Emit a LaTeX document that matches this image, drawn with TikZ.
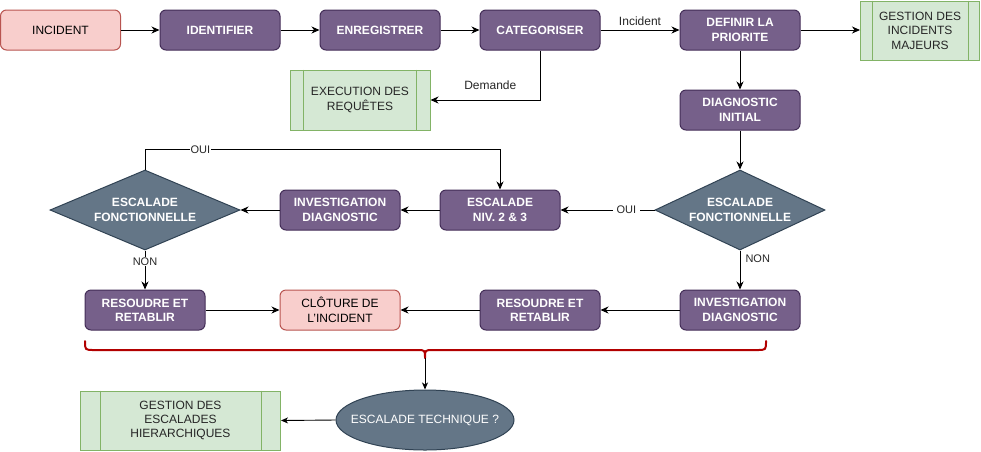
\documentclass[tikz,border=0pt]{standalone}
\usepackage{fontspec}
\setmainfont{Liberation Sans}
\usetikzlibrary{shapes.geometric,arrows.meta,calc}
\definecolor{purF}{HTML}{76608A}
\definecolor{purD}{HTML}{432D57}
\definecolor{slF}{HTML}{647687}
\definecolor{slD}{HTML}{314354}
\definecolor{pkF}{HTML}{F8CECC}
\definecolor{pkD}{HTML}{B85450}
\definecolor{grF}{HTML}{D5E8D4}
\definecolor{grD}{HTML}{82B366}
\definecolor{brR}{HTML}{B20000}
\newcommand{\fsz}{\fontsize{12pt}{14.4pt}\selectfont}
\newcommand{\fsm}{\fontsize{11pt}{13pt}\selectfont}
\tikzset{
  procbox/.style={rectangle, rounded corners=6pt, fill=purF, draw=purD, line width=1pt,
    text=white, font=\fsz\bfseries, minimum width=120pt, minimum height=40pt,
    align=center, inner sep=2pt},
  pinkbox/.style={procbox, fill=pkF, draw=pkD, text=black, font=\fsz},
  greenbox/.style={rectangle, fill=grF, draw=grD, line width=1pt, text=black!85,
    font=\fsz, align=center, inner sep=2pt},
  decbox/.style={diamond, fill=slF, draw=slD, line width=1pt, text=white,
    font=\fsz\bfseries, align=center, inner sep=0pt},
  grline/.style={draw=grD, line width=1pt},
  arr/.style={line width=1pt, -{Stealth[length=8pt,width=7pt,inset=2.5pt]}},
  arrs/.style={line width=0.9pt, -{Stealth[length=7pt,width=6pt,inset=2pt]}},
  lbl/.style={font=\fsz, text=black!85, inner sep=1pt},
  lblw/.style={font=\fsm, text=black!85, fill=white, inner sep=1pt},
}
\begin{document}
\begin{tikzpicture}[x=1pt,y=-1pt]
\useasboundingbox (0,0) rectangle (981,451);
% row 1
\node[pinkbox] (inc) at (60.5,30) {INCIDENT};
\node[procbox] (ident) at (220,30) {IDENTIFIER};
\node[procbox] (enreg) at (380,30) {ENREGISTRER};
\node[procbox] (categ) at (540,30) {CATEGORISER};
\node[procbox] (defin) at (740,30) {DEFINIR LA\\PRIORITE};
\node[greenbox, minimum width=119pt, minimum height=59pt] (gim) at (920,30.5) {GESTION DES\\INCIDENTS\\MAJEURS};
\draw[grline] ($(gim.north west)+(12,0)$) -- ($(gim.south west)+(12,0)$);
\draw[grline] ($(gim.north east)+(-12,0)$) -- ($(gim.south east)+(-12,0)$);
\node[greenbox, minimum width=140pt, minimum height=60pt] (exec) at (360,100) {EXECUTION DES\\REQUÊTES};
\draw[grline] ($(exec.north west)+(14,0)$) -- ($(exec.south west)+(14,0)$);
\draw[grline] ($(exec.north east)+(-14,0)$) -- ($(exec.south east)+(-14,0)$);
\node[procbox] (diag) at (740,110) {DIAGNOSTIC\\INITIAL};
% row 2
\node[decbox, aspect=2.125, minimum width=170pt, minimum height=80pt] (escR) at (740,210) {ESCALADE\\FONCTIONNELLE};
\node[procbox] (esc23) at (500,210) {ESCALADE\\NIV. 2 \& 3};
\node[procbox] (invL) at (340,210) {INVESTIGATION\\DIAGNOSTIC};
\node[decbox, aspect=2.375, minimum width=190pt, minimum height=80pt] (escL) at (145,210) {ESCALADE\\FONCTIONNELLE};
% row 3
\node[procbox] (invR) at (740,310) {INVESTIGATION\\DIAGNOSTIC};
\node[procbox] (resR) at (540,310) {RESOUDRE ET\\RETABLIR};
\node[pinkbox] (clot) at (340,310) {CLÔTURE DE\\L'INCIDENT};
\node[procbox] (resL) at (145,310) {RESOUDRE ET\\RETABLIR};
% bottom
\node[ellipse, fill=slF, draw=slD, line width=1pt, minimum width=178pt, minimum height=60pt,
  inner sep=0pt, label={[text=white, font=\fsz]center:ESCALADE TECHNIQUE ?}] (etech) at (425,420) {};
\node[greenbox, minimum width=200pt, minimum height=59pt] (gesc) at (180.5,420.5) {GESTION DES\\ESCALADES\\HIERARCHIQUES};
\draw[grline] ($(gesc.north west)+(20,0)$) -- ($(gesc.south west)+(20,0)$);
\draw[grline] ($(gesc.north east)+(-20,0)$) -- ($(gesc.south east)+(-20,0)$);
% brace
\coordinate (btip) at (425,358);
\draw[brR, line width=2pt, line cap=round, line join=round]
  (85,341) .. controls (85,350) .. (94,350) -- (417,350)
  .. controls (425,350) .. (btip)
  .. controls (425,350) .. (433,350) -- (757,350)
  .. controls (766,350) .. (766,341);
% connectors
\draw[arr] (inc) -- (ident);
\draw[arr] (ident) -- (enreg);
\draw[arr] (enreg) -- (categ);
\draw[arr] (categ) -- node[lbl, above=3pt] {Incident} (defin);
\draw[arr] (defin) -- (gim.west |- defin);
\draw[arr] (categ.south) |- node[lbl, pos=0.727, above=9pt] {Demande} (exec.east);
\draw[arr] (defin) -- (diag);
\draw[arr] (diag) -- (escR.north);
\draw[arr] (escR.west) -- node[lblw, pos=0.3, inner sep=4pt] {OUI} (esc23);
\draw[arr] (escR.south) -- node[lbl, font=\fsm, right=4pt, pos=0.22] {NON} (invR);
\draw[arr] (esc23) -- (invL);
\draw[arr] (invL) -- (escL.east);
\draw[arr] (escL.north) -- ++(0,-20) -| node[lblw, pos=0.078] {OUI} (esc23.north);
\draw[arr] (escL.south) -- node[lblw, pos=0.28] {NON} (resL);
\draw[arr] (invR) -- (resR);
\draw[arr] (resR) -- (clot);
\draw[arr] (resL) -- (clot);
\draw[arrs] (btip) -- (etech.north);
\draw[arrs] (etech.west) -- (gesc.east);
\end{tikzpicture}
\end{document}
